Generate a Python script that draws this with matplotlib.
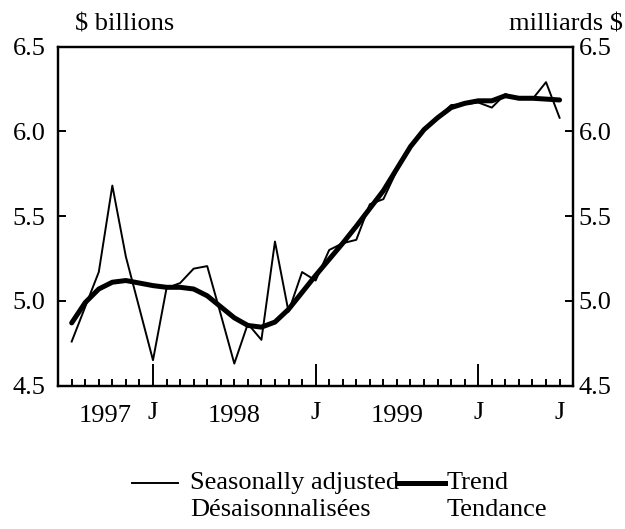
import matplotlib.pyplot as plt
import matplotlib.transforms as mtransforms
from matplotlib.lines import Line2D
import numpy as np

plt.rcParams['font.family'] = ['Liberation Serif', 'DejaVu Serif']

# monthly data, month index 0..36
months = np.arange(37)
seasonally_adjusted = [
    4.76, 4.965, 5.17, 5.68, 5.26, 4.955, 4.65, 5.075, 5.105, 5.19,
    5.205, 4.92, 4.63, 4.865, 4.77, 5.35, 4.936, 5.17, 5.12, 5.30,
    5.34, 5.36, 5.57, 5.60, 5.77, 5.92, 6.01, 6.08, 6.155, 6.16,
    6.17, 6.14, 6.22, 6.19, 6.19, 6.29, 6.08,
]
trend = [
    4.87, 4.99, 5.07, 5.11, 5.12, 5.105, 5.09, 5.08, 5.08, 5.07,
    5.03, 4.965, 4.90, 4.855, 4.845, 4.875, 4.95, 5.05, 5.15, 5.245,
    5.34, 5.44, 5.545, 5.65, 5.78, 5.91, 6.01, 6.08, 6.14, 6.165,
    6.18, 6.18, 6.21, 6.195, 6.195, 6.19, 6.185,
]

j_pos = [6, 18, 30, 36]
major_pos = [6, 18, 30]
year_labels = ['1997', '1998', '1999']
year_pos = [2.5, 12, 24]
y_ticks = [4.5, 5.0, 5.5, 6.0, 6.5]
y_labels = [f'{v:.1f}' for v in y_ticks]

fs = 19

fig = plt.figure(figsize=(6.25, 5.29), dpi=100)
ax = fig.add_axes([0.093, 0.271, 0.824, 0.641])

ax.plot(months, seasonally_adjusted, color='black', lw=1.4)
ax.plot(months, trend, color='black', lw=3.6, solid_capstyle='round')

ax.set_xlim(-1, 37)
ax.set_ylim(4.5, 6.5)

for s in ax.spines.values():
    s.set_linewidth(1.6)

# x axis: monthly minor ticks, longer ticks at J
ax.set_xticks(major_pos)
ax.set_xticklabels([])
ax.set_xticks(months, minor=True)
ax.tick_params(axis='x', which='major', direction='in', length=16, width=1.4)
ax.tick_params(axis='x', which='minor', direction='in', length=5, width=1.4)

ax.set_yticks(y_ticks)
ax.set_yticklabels(y_labels)
ax.tick_params(axis='y', direction='in', length=6, width=1.4, labelsize=fs, pad=9)

# right-hand scale
axr = ax.twinx()
axr.set_ylim(ax.get_ylim())
axr.set_yticks(y_ticks)
axr.set_yticklabels(y_labels)
axr.tick_params(axis='y', direction='in', length=6, width=1.4, labelsize=fs, pad=4)
for s in axr.spines.values():
    s.set_linewidth(1.6)

trans = mtransforms.blended_transform_factory(ax.transData, ax.transAxes)
for x in j_pos:
    ax.text(x, -0.048, 'J', transform=trans, ha='center', va='top', fontsize=fs)
for x, lab in zip(year_pos, year_labels):
    ax.text(x, -0.056, lab, transform=trans, ha='center', va='top', fontsize=fs)

fig.text(0.12, 0.953, '$ billions', ha='left', va='center', fontsize=fs)
fig.text(0.997, 0.953, 'milliards $', ha='right', va='center', fontsize=fs)

# legend
W, H = 625, 529
fig.add_artist(Line2D([132 / W, 178 / W], [1 - 483 / H] * 2, color='black', lw=1.4))
fig.add_artist(Line2D([397 / W, 445 / W], [1 - 483 / H] * 2, color='black', lw=3.6))
fig.text(190 / W, 1 - 483 / H, 'Seasonally adjusted', ha='left', va='center', fontsize=fs)
fig.text(190 / W, 1 - 510 / H, 'Désaisonnalisées', ha='left', va='center', fontsize=fs)
fig.text(447 / W, 1 - 483 / H, 'Trend', ha='left', va='center', fontsize=fs)
fig.text(447 / W, 1 - 510 / H, 'Tendance', ha='left', va='center', fontsize=fs)

fig.savefig('out.png', dpi=100)
